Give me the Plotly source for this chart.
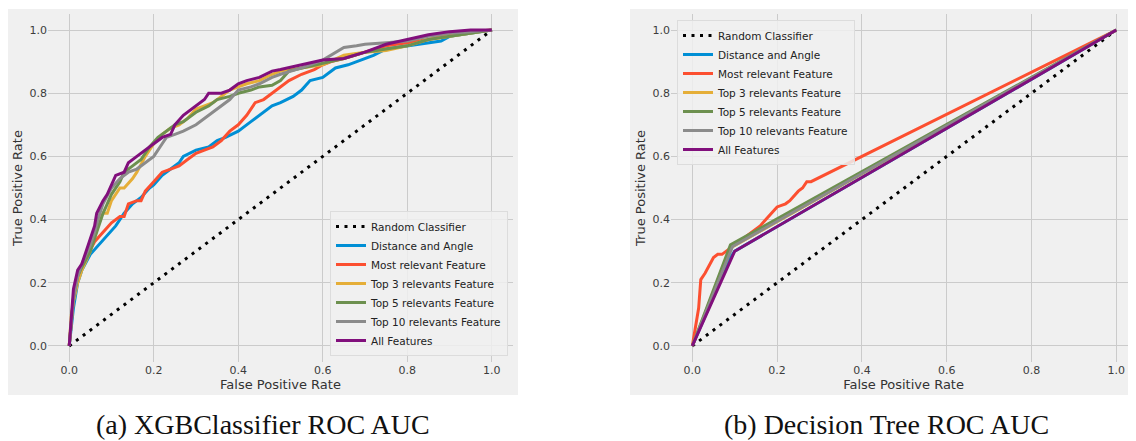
import plotly.graph_objects as go

# ---------------- data ----------------
names = ["Distance and Angle", "Most relevant Feature", "Top 3 relevants Feature",
         "Top 5 relevants Feature", "Top 10 relevants Feature", "All Features"]
colors = ["#008fd5", "#fc4f30", "#e5ae38", "#6d904f", "#8b8b8b", "#810f7c"]

random_x = [0, 1]
random_y = [0, 1]

# XGBClassifier ROC curves
xgb_dist_x = [0, 0.01, 0.02, 0.03, 0.05, 0.07, 0.09, 0.11, 0.13, 0.15, 0.17, 0.19, 0.2, 0.22, 0.24, 0.26, 0.27,
              0.3, 0.33, 0.35, 0.37, 0.4, 0.43, 0.46, 0.48, 0.5, 0.53, 0.55, 0.57, 0.6, 0.63, 0.66, 0.7, 0.72,
              0.75, 0.8, 0.85, 0.88, 0.9, 0.95, 1]
xgb_dist_y = [0, 0.12, 0.2, 0.24, 0.29, 0.32, 0.35, 0.38, 0.42, 0.45, 0.47, 0.5, 0.51, 0.54, 0.56, 0.58, 0.6,
              0.62, 0.63, 0.65, 0.66, 0.68, 0.71, 0.74, 0.76, 0.77, 0.79, 0.81, 0.84, 0.85, 0.88, 0.89, 0.91, 0.92,
              0.94, 0.95, 0.96, 0.965, 0.98, 0.99, 1]

xgb_most_x = [0, 0.01, 0.02, 0.04, 0.06, 0.08, 0.1, 0.12, 0.13, 0.14, 0.16, 0.17, 0.18, 0.2, 0.22, 0.24, 0.26,
              0.28, 0.3, 0.32, 0.34, 0.36, 0.38, 0.4, 0.42, 0.44, 0.46, 0.48, 0.5, 0.52, 0.55, 0.58, 0.6, 0.62,
              0.65, 0.7, 0.75, 0.8, 0.85, 0.9, 0.95, 1]
xgb_most_y = [0, 0.15, 0.22, 0.28, 0.33, 0.36, 0.39, 0.41, 0.41, 0.45, 0.46, 0.46, 0.49, 0.52, 0.55, 0.56, 0.57,
              0.59, 0.61, 0.62, 0.63, 0.65, 0.68, 0.7, 0.73, 0.77, 0.78, 0.8, 0.82, 0.84, 0.86, 0.875, 0.89, 0.9,
              0.91, 0.93, 0.95, 0.96, 0.97, 0.985, 0.995, 1]

xgb_top3_x = [0, 0.005, 0.01, 0.02, 0.03, 0.05, 0.06, 0.07, 0.08, 0.09, 0.1, 0.11, 0.12, 0.13, 0.15, 0.16, 0.18,
              0.2, 0.22, 0.24, 0.26, 0.28, 0.3, 0.32, 0.34, 0.36, 0.38, 0.4, 0.42, 0.45, 0.48, 0.5, 0.55, 0.6,
              0.65, 0.7, 0.75, 0.8, 0.85, 0.9, 0.95, 1]
xgb_top3_y = [0, 0.1, 0.14, 0.2, 0.24, 0.3, 0.35, 0.4, 0.42, 0.42, 0.46, 0.48, 0.5, 0.5, 0.53, 0.55, 0.6,
              0.64, 0.67, 0.69, 0.7, 0.72, 0.75, 0.76, 0.77, 0.79, 0.81, 0.82, 0.83, 0.84, 0.86, 0.87, 0.88, 0.89,
              0.92, 0.93, 0.935, 0.95, 0.97, 0.98, 0.99, 1]

xgb_top5_x = [0, 0.01, 0.02, 0.03, 0.05, 0.06, 0.07, 0.08, 0.09, 0.1, 0.12, 0.13, 0.15, 0.17, 0.19, 0.21, 0.23,
              0.25, 0.27, 0.3, 0.33, 0.35, 0.38, 0.4, 0.43, 0.45, 0.48, 0.5, 0.52, 0.55, 0.6, 0.65, 0.7, 0.75,
              0.8, 0.85, 0.9, 0.95, 1]
xgb_top5_y = [0, 0.15, 0.22, 0.25, 0.3, 0.34, 0.38, 0.42, 0.45, 0.48, 0.52, 0.55, 0.57, 0.59, 0.63, 0.66, 0.68,
              0.7, 0.71, 0.74, 0.76, 0.78, 0.79, 0.8, 0.81, 0.82, 0.825, 0.84, 0.87, 0.88, 0.895, 0.91, 0.93, 0.94,
              0.95, 0.97, 0.98, 0.99, 1]

xgb_top10_x = [0, 0.01, 0.02, 0.03, 0.05, 0.06, 0.07, 0.08, 0.1, 0.12, 0.14, 0.16, 0.18, 0.2, 0.22, 0.23, 0.25,
               0.27, 0.3, 0.32, 0.35, 0.38, 0.4, 0.43, 0.45, 0.48, 0.5, 0.55, 0.6, 0.63, 0.65, 0.68, 0.7, 0.75,
               0.8, 0.85, 0.9, 0.95, 1]
xgb_top10_y = [0, 0.15, 0.22, 0.26, 0.32, 0.36, 0.41, 0.45, 0.5, 0.53, 0.55, 0.56, 0.58, 0.6, 0.64, 0.66, 0.67,
               0.68, 0.7, 0.72, 0.75, 0.78, 0.81, 0.82, 0.83, 0.85, 0.86, 0.88, 0.905, 0.93, 0.945, 0.95, 0.955,
               0.96, 0.965, 0.98, 0.99, 0.995, 1]

xgb_all_x = [0, 0.005, 0.01, 0.02, 0.03, 0.04, 0.05, 0.06, 0.065, 0.08, 0.09, 0.1, 0.11, 0.13, 0.14, 0.16, 0.18,
             0.2, 0.22, 0.24, 0.25, 0.27, 0.3, 0.32, 0.33, 0.36, 0.38, 0.4, 0.42, 0.45, 0.48, 0.5, 0.55, 0.6,
             0.65, 0.7, 0.75, 0.8, 0.85, 0.9, 0.95, 1]
xgb_all_y = [0, 0.1, 0.18, 0.24, 0.26, 0.3, 0.34, 0.38, 0.42, 0.46, 0.48, 0.51, 0.54, 0.55, 0.58, 0.6, 0.62,
             0.64, 0.66, 0.67, 0.7, 0.73, 0.76, 0.78, 0.8, 0.8, 0.81, 0.83, 0.84, 0.85, 0.87, 0.875, 0.89, 0.905,
             0.91, 0.93, 0.955, 0.97, 0.985, 0.995, 1.0, 1]

# Decision Tree ROC curves
dt_dist_x = [0, 0.09, 0.1, 1]
dt_dist_y = [0, 0.28, 0.3, 1]
dt_most_x = [0, 0.015, 0.02, 0.03, 0.05, 0.06, 0.07, 0.1, 0.12, 0.16, 0.2, 0.22, 0.23, 0.25, 0.26, 0.27, 0.28, 1]
dt_most_y = [0, 0.12, 0.21, 0.23, 0.28, 0.29, 0.29, 0.32, 0.34, 0.38, 0.44, 0.45, 0.46, 0.49, 0.5, 0.52, 0.52, 1]
dt_top3_x = [0, 0.09, 1]
dt_top3_y = [0, 0.31, 1]
dt_top5_x = [0, 0.09, 1]
dt_top5_y = [0, 0.32, 1]
dt_top10_x = [0, 0.095, 1]
dt_top10_y = [0, 0.315, 1]
dt_all_x = [0, 0.1, 1]
dt_all_y = [0, 0.3, 1]

xgb_curves = [(xgb_dist_x, xgb_dist_y), (xgb_most_x, xgb_most_y), (xgb_top3_x, xgb_top3_y),
              (xgb_top5_x, xgb_top5_y), (xgb_top10_x, xgb_top10_y), (xgb_all_x, xgb_all_y)]
dt_curves = [(dt_dist_x, dt_dist_y), (dt_most_x, dt_most_y), (dt_top3_x, dt_top3_y),
             (dt_top5_x, dt_top5_y), (dt_top10_x, dt_top10_y), (dt_all_x, dt_all_y)]

ticks = [0.0, 0.2, 0.4, 0.6, 0.8, 1.0]
tick_text = ["0.0", "0.2", "0.4", "0.6", "0.8", "1.0"]
captions = ["(a) XGBClassifier ROC AUC", "(b) Decision Tree ROC AUC"]

# ---------------- figure ----------------
OFF = 8                      # default page margin of the html body
W, H = 1136 - OFF, 441 - OFF
BG = "#f0f0f0"
GRID = "#cbcbcb"
FONT = "DejaVu Sans"

fig = go.Figure()

panels = [("x", "y", "legend", xgb_curves), ("x2", "y2", "legend2", dt_curves)]
for xa, ya, lg, curves in panels:
    fig.add_trace(go.Scatter(x=random_x, y=random_y, mode="lines", name="Random Classifier",
                             line=dict(color="black", width=3, dash="3px,5.5px"),
                             xaxis=xa, yaxis=ya, legend=lg))
    for (cx, cy), nm, col in zip(curves, names, colors):
        fig.add_trace(go.Scatter(x=cx, y=cy, mode="lines", name=nm,
                                 line=dict(color=col, width=3),
                                 xaxis=xa, yaxis=ya, legend=lg))

def px_x(p):
    return max(0.0, min(1.0, (p - OFF) / W))

def px_y(p):
    return max(0.0, min(1.0, (H - (p - OFF)) / H))

axis_common = dict(showgrid=True, gridcolor=GRID, gridwidth=1, zeroline=False, showline=False,
                   ticks="", tickvals=ticks, ticktext=tick_text,
                   tickfont=dict(family=FONT, size=11, color="#3c3c3c"))
title_font = dict(family=FONT, size=13, color="#333333")

yd = [px_y(361.75), px_y(14.25)]
fig.update_layout(
    width=W, height=H,
    margin=dict(l=0, r=0, t=0, b=0),
    paper_bgcolor="white",
    plot_bgcolor=BG,
    font=dict(family=FONT, color="#333333"),
    showlegend=True,
    xaxis=dict(domain=[px_x(48.1), px_x(512.9)], range=[-0.05, 1.05], anchor="y",
               title=dict(text="False Positive Rate", font=title_font, standoff=2),
               **axis_common),
    yaxis=dict(domain=yd, range=[-0.05, 1.05], anchor="x",
               title=dict(text="True Positive Rate", font=title_font, standoff=4),
               **axis_common),
    xaxis2=dict(domain=[px_x(671.1), 1.0], range=[-0.05, 1.0465], anchor="y2",
                title=dict(text="False Positive Rate", font=title_font, standoff=2),
                **axis_common),
    yaxis2=dict(domain=yd, range=[-0.05, 1.05], anchor="x2",
                title=dict(text="True Positive Rate", font=title_font, standoff=4),
                **axis_common),
    legend=dict(x=px_x(508), y=px_y(356), xanchor="right", yanchor="bottom",
                bgcolor="rgba(240,240,240,0.85)", bordercolor="#dcdcdc", borderwidth=1,
                font=dict(family=FONT, size=10.5, color="#222222"), itemwidth=30,
                tracegroupgap=0),
    legend2=dict(x=px_x(677), y=px_y(20), xanchor="left", yanchor="top",
                 bgcolor="rgba(240,240,240,0.85)", bordercolor="#dcdcdc", borderwidth=1,
                 font=dict(family=FONT, size=10.5, color="#222222"), itemwidth=30,
                 tracegroupgap=0),
    shapes=[
        dict(type="rect", xref="paper", yref="paper", x0=px_x(7), x1=px_x(518), y0=px_y(395), y1=px_y(9),
             fillcolor=BG, line=dict(width=0), layer="below"),
        dict(type="rect", xref="paper", yref="paper", x0=px_x(630), x1=1.0, y0=px_y(395), y1=px_y(9),
             fillcolor=BG, line=dict(width=0), layer="below"),
    ],
    annotations=[
        dict(text=captions[0], xref="paper", yref="paper", x=px_x(262.5), y=px_y(424),
             xanchor="center", yanchor="middle", showarrow=False,
             font=dict(family="Liberation Serif", size=28, color="#111111")),
        dict(text=captions[1], xref="paper", yref="paper", x=px_x(886), y=px_y(424),
             xanchor="center", yanchor="middle", showarrow=False,
             font=dict(family="Liberation Serif", size=28, color="#111111")),
    ],
)

fig.write_html("out.html")
